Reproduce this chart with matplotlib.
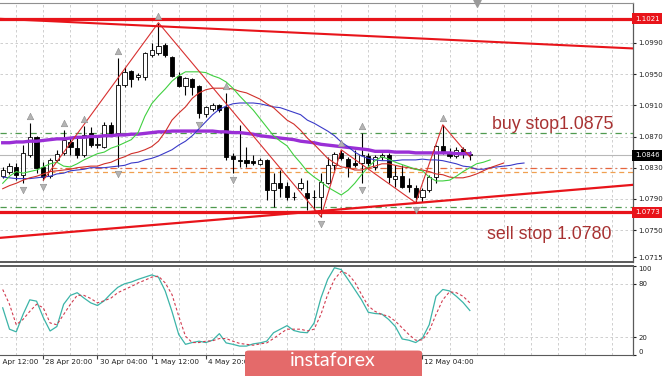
import numpy as np
import matplotlib
matplotlib.use("Agg")
import matplotlib.pyplot as plt
from matplotlib.transforms import blended_transform_factory
from matplotlib.patches import FancyBboxPatch

# EURUSD H4 candles
opens = [1.0819, 1.0825, 1.0831, 1.0821, 1.0846, 1.0869, 1.0831, 1.0819, 1.0840, 1.0849,
         1.0863, 1.0855, 1.0846, 1.0875, 1.0859, 1.0857, 1.0885, 1.0875, 1.0936, 1.0954,
         1.0946, 1.0946, 1.0975, 1.0977, 1.0987, 1.0972, 1.0948, 1.0935, 1.0944, 1.0935,
         1.0899, 1.0905, 1.0910, 1.0908, 1.0845, 1.0840, 1.0840, 1.0839, 1.0835, 1.0840,
         1.0801, 1.0810, 1.0807, 1.0793, 1.0804, 1.0798, 1.0793, 1.0792, 1.0810, 1.0833,
         1.0849, 1.0841, 1.0836, 1.0836, 1.0845, 1.0831, 1.0844, 1.0846, 1.0816, 1.0819,
         1.0808, 1.0804, 1.0792, 1.0801, 1.0818, 1.0858, 1.0850, 1.0845, 1.0854, 1.0848]
highs = [1.0831, 1.0836, 1.0836, 1.0859, 1.0887, 1.0871, 1.0837, 1.0842, 1.0853, 1.0878,
         1.0869, 1.0868, 1.0884, 1.0882, 1.0872, 1.0889, 1.0889, 1.0971, 1.0959, 1.0955,
         1.0952, 1.0978, 1.0990, 1.1016, 1.0990, 1.0973, 1.0953, 1.0946, 1.0945, 1.0936,
         1.0909, 1.0913, 1.0912, 1.0926, 1.0849, 1.0885, 1.0857, 1.0846, 1.0842, 1.0841,
         1.0823, 1.0827, 1.0812, 1.0799, 1.0817, 1.0814, 1.0801, 1.0823, 1.0844, 1.0850,
         1.0853, 1.0844, 1.0853, 1.0875, 1.0849, 1.0846, 1.0849, 1.0849, 1.0833, 1.0833,
         1.0817, 1.0808, 1.0804, 1.0821, 1.0859, 1.0885, 1.0855, 1.0856, 1.0856, 1.0851]
lows = [1.0817, 1.0822, 1.0814, 1.0810, 1.0844, 1.0823, 1.0814, 1.0817, 1.0837, 1.0846,
        1.0846, 1.0843, 1.0844, 1.0857, 1.0855, 1.0855, 1.0873, 1.0831, 1.0934, 1.0934,
        1.0943, 1.0943, 1.0972, 1.0975, 1.0972, 1.0946, 1.0934, 1.0923, 1.0923, 1.0894,
        1.0895, 1.0903, 1.0901, 1.0840, 1.0823, 1.0831, 1.0831, 1.0833, 1.0833, 1.0789,
        1.0780, 1.0792, 1.0789, 1.0789, 1.0801, 1.0776, 1.0776, 1.0767, 1.0809, 1.0827,
        1.0840, 1.0818, 1.0831, 1.0810, 1.0831, 1.0827, 1.0840, 1.0810, 1.0805, 1.0804,
        1.0799, 1.0785, 1.0786, 1.0799, 1.0810, 1.0848, 1.0843, 1.0843, 1.0843, 1.0840]
closes = [1.0827, 1.0832, 1.0821, 1.0849, 1.0869, 1.0830, 1.0818, 1.0840, 1.0848, 1.0866,
          1.0857, 1.0846, 1.0872, 1.0859, 1.0861, 1.0885, 1.0875, 1.0936, 1.0953, 1.0944,
          1.0949, 1.0977, 1.0981, 1.0986, 1.0975, 1.0948, 1.0935, 1.0945, 1.0934, 1.0900,
          1.0908, 1.0910, 1.0904, 1.0844, 1.0841, 1.0839, 1.0836, 1.0836, 1.0840, 1.0801,
          1.0810, 1.0804, 1.0792, 1.0792, 1.0810, 1.0791, 1.0792, 1.0812, 1.0833, 1.0848,
          1.0842, 1.0831, 1.0834, 1.0846, 1.0836, 1.0844, 1.0846, 1.0818, 1.0819, 1.0805,
          1.0805, 1.0792, 1.0801, 1.0818, 1.0858, 1.0849, 1.0845, 1.0853, 1.0847, 1.0846]

# slow MA (purple)
ma_slow = [1.0862, 1.0862, 1.0863, 1.0863, 1.0864, 1.0864, 1.0865, 1.0866, 1.0867, 1.0867,
           1.0868, 1.0869, 1.0869, 1.0870, 1.0870, 1.0871, 1.0871, 1.0872, 1.0872, 1.0873,
           1.0873, 1.0874, 1.0875, 1.0876, 1.0876, 1.0877, 1.0877, 1.0877, 1.0877, 1.0877,
           1.0877, 1.0877, 1.0876, 1.0876, 1.0875, 1.0875, 1.0874, 1.0873, 1.0871, 1.0870,
           1.0869, 1.0868, 1.0867, 1.0866, 1.0864, 1.0863, 1.0862, 1.0860, 1.0859, 1.0858,
           1.0857, 1.0856, 1.0855, 1.0854, 1.0853, 1.0851, 1.0851, 1.0851, 1.0850, 1.0850,
           1.0850, 1.0849, 1.0849, 1.0849, 1.0849, 1.0849, 1.0849, 1.0848, 1.0848, 1.0848]

# alligator, already shifted forward (jaw +8, teeth +5, lips +3)
jaw = [1.0818, 1.0817, 1.0816, 1.0816, 1.0816, 1.0817, 1.0818, 1.0819, 1.0822, 1.0823,
       1.0826, 1.0827, 1.0828, 1.0830, 1.0830, 1.0830, 1.0831, 1.0832, 1.0833, 1.0836,
       1.0837, 1.0840, 1.0842, 1.0845, 1.0849, 1.0853, 1.0859, 1.0864, 1.0871, 1.0880,
       1.0889, 1.0898, 1.0905, 1.0909, 1.0912, 1.0913, 1.0913, 1.0913, 1.0912, 1.0910,
       1.0908, 1.0907, 1.0904, 1.0901, 1.0898, 1.0891, 1.0887, 1.0882, 1.0877, 1.0871,
       1.0863, 1.0857, 1.0850, 1.0845, 1.0842, 1.0840, 1.0839, 1.0839, 1.0839, 1.0840,
       1.0840, 1.0840, 1.0841, 1.0840, 1.0840, 1.0839, 1.0837, 1.0835, 1.0832, 1.0831,
       1.0828, 1.0828, 1.0830, 1.0831, 1.0832, 1.0833, 1.0835, 1.0836]
teeth = [1.0803, 1.0807, 1.0810, 1.0814, 1.0817, 1.0819, 1.0822, 1.0825, 1.0826, 1.0827,
         1.0828, 1.0830, 1.0831, 1.0832, 1.0832, 1.0835, 1.0837, 1.0841, 1.0844, 1.0848,
         1.0850, 1.0853, 1.0857, 1.0864, 1.0876, 1.0891, 1.0900, 1.0908, 1.0919, 1.0926,
         1.0930, 1.0932, 1.0932, 1.0932, 1.0931, 1.0928, 1.0926, 1.0922, 1.0918, 1.0912,
         1.0907, 1.0899, 1.0891, 1.0886, 1.0878, 1.0868, 1.0860, 1.0851, 1.0842, 1.0836,
         1.0831, 1.0830, 1.0827, 1.0827, 1.0830, 1.0832, 1.0835, 1.0835, 1.0833, 1.0831,
         1.0830, 1.0828, 1.0827, 1.0825, 1.0822, 1.0821, 1.0818, 1.0817, 1.0817, 1.0819,
         1.0822, 1.0826, 1.0830, 1.0833, 1.0836]
lips = [1.0810, 1.0819, 1.0825, 1.0823, 1.0825, 1.0827, 1.0831, 1.0835, 1.0837, 1.0832,
        1.0831, 1.0835, 1.0840, 1.0844, 1.0848, 1.0850, 1.0855, 1.0858, 1.0862, 1.0866,
        1.0875, 1.0896, 1.0912, 1.0922, 1.0931, 1.0941, 1.0948, 1.0953, 1.0953, 1.0953,
        1.0952, 1.0948, 1.0945, 1.0940, 1.0932, 1.0922, 1.0913, 1.0904, 1.0893, 1.0882,
        1.0871, 1.0864, 1.0858, 1.0846, 1.0836, 1.0825, 1.0818, 1.0812, 1.0805, 1.0800,
        1.0795, 1.0801, 1.0810, 1.0821, 1.0831, 1.0839, 1.0844, 1.0841, 1.0837, 1.0834,
        1.0831, 1.0828, 1.0826, 1.0818, 1.0813, 1.0813, 1.0814, 1.0819, 1.0825, 1.0830,
        1.0835, 1.0837, 1.0840]

# zigzag swing points
zz_idx = [6, 23, 47, 50, 61, 65, 69]
zz_val = [1.0814, 1.1016, 1.0767, 1.0853, 1.0785, 1.0885, 1.0844]

# bill williams fractals
frac_up = [4, 9, 12, 17, 23, 33, 50, 53, 65]
frac_dn = [3, 6, 17, 29, 34, 47, 53, 61]

# stochastic
stoch_k = [53, 29, 26, 45.5, 62, 60.5, 42, 27, 32, 57,
           67, 70, 64, 58.6, 55.6, 61, 69, 76, 80, 82,
           85, 87.5, 90, 87.5, 72, 49, 23, 12, 14, 15.5,
           14, 16.6, 24, 13.6, 12, 10, 10, 12.5, 13.6, 15.5,
           25, 29, 33, 27.5, 25.6, 25, 36, 64, 85, 98,
           96, 85, 73.6, 62, 48, 46.6, 46, 40, 32, 18,
           16.6, 14, 19, 34, 66, 73.6, 72, 66, 59, 50]
stoch_d = [73.6, 57, 34, 40, 49, 57, 53, 36, 34, 45.5,
           57, 67, 67, 63.5, 58.6, 61, 64, 70, 73.6, 77,
           81, 84, 87.5, 88.6, 81, 68, 43.6, 21, 14, 14,
           15.5, 16, 18.5, 18.5, 15.5, 13, 12, 11, 12.5, 13.6,
           18.5, 24, 29, 29, 29, 27, 29, 45.5, 68, 85,
           94, 91, 82, 68, 55, 49, 45.5, 43.6, 38, 30.5,
           23, 16.6, 17, 27, 45.5, 62, 71, 70, 66, 58.6]

# levels and trend lines
resist_level = 1.1021
support_level = 1.0773
buy_stop = 1.0875
sell_stop = 1.0780
pivot_levels = [1.0830, 1.0824]
top_trend = [1.1021, 1.0983]
bottom_trend = [1.0740, 1.0808]

price_ticks = [1.0990, 1.0950, 1.0910, 1.0870, 1.0830, 1.0790, 1.0750, 1.0715]
# labels for 6/7/8 May sit under the watermark in the original, so only these show
time_pos = [-2, 6, 14, 22, 30, 62]
time_labels = ["27 Apr 12:00", "28 Apr 20:00", "30 Apr 04:00", "1 May 12:00", "4 May 20:00",
               "12 May 04:00"]
tick_pos = [6, 14, 22, 30, 38, 46, 54, 62]

W, H = 665, 376
fig = plt.figure(figsize=(W / 100, H / 100), dpi=100)
ax = fig.add_axes([0, 114 / H, 633 / W, 259 / H])
ax2 = fig.add_axes([0, 21 / H, 633 / W, 89 / H], sharex=ax)

x0, x1 = -0.4, 93.1
ax.set_xlim(x0, x1)
ax.set_ylim(1.0709, 1.10413)
ax2.set_ylim(0, 100)

grid_kw = dict(color='#c8c8c8', lw=0.6, ls=(0, (3, 3)), zorder=0)
for gx in np.arange(2, 93, 4):
    ax.axvline(gx, **grid_kw)
    ax2.axvline(gx, **grid_kw)
for gy in price_ticks[:-1]:
    ax.axhline(gy, **grid_kw)
for gy in [80, 20]:
    ax2.axhline(gy, **grid_kw)

# horizontal levels / trend lines
ax.axhline(resist_level, color='#e8141a', lw=2.3, zorder=7)
ax.axhline(support_level, color='#e8141a', lw=2.3, zorder=7)
ax.plot([x0, x1], top_trend, color='#e8141a', lw=1.5, zorder=7)
ax.plot([x0, x1], bottom_trend, color='#e8141a', lw=1.6, zorder=7)
ax.axhline(buy_stop, color='#4f9a4f', lw=0.9, ls=(0, (5, 3, 1, 3)), zorder=2)
ax.axhline(sell_stop, color='#4f9a4f', lw=0.9, ls=(0, (5, 3, 1, 3)), zorder=2)
ax.hlines(pivot_levels[0], 7, x1, color='#e8643c', lw=0.9, ls=(0, (5, 3, 1, 3)), zorder=2)
ax.hlines(pivot_levels[1], 7, x1, color='#f0a050', lw=0.9, ls=(0, (4, 3)), zorder=2)
ax.axhline(closes[-1], color='#b8b8b8', lw=0.8, zorder=1)

# candles
o = np.array(opens); c = np.array(closes); hi = np.array(highs); lo = np.array(lows)
xi = np.arange(len(c))
bull = c >= o
ax.vlines(xi, lo, hi, color='black', lw=0.8, zorder=4)
ax.bar(xi, np.maximum(np.abs(c - o), 0.00004), bottom=np.minimum(o, c), width=0.62,
       color=np.where(bull, 'white', 'black'), edgecolor='black', lw=0.6, zorder=5)

# indicators
ax.plot(np.arange(len(ma_slow)), ma_slow, color='#9a2fd6', lw=2.4, zorder=6)
ax.plot(np.arange(len(jaw)), jaw, color='#3a3ac8', lw=0.8, zorder=6)
ax.plot(np.arange(len(teeth)), teeth, color='#d0302a', lw=0.8, zorder=6)
ax.plot(np.arange(len(lips)), lips, color='#40d040', lw=0.8, zorder=6)
ax.plot(zz_idx, zz_val, color='#d83030', lw=0.8, zorder=6)
ax.scatter(frac_up, hi[frac_up] + 0.0009, marker='^', s=22, color='#b4b4b4',
           edgecolor='#8c8c8c', lw=0.4, zorder=8)
ax.scatter(frac_dn, lo[frac_dn] - 0.0009, marker='v', s=22, color='#b4b4b4',
           edgecolor='#8c8c8c', lw=0.4, zorder=8)
ax.scatter([70], [1.0], marker='v', s=30, color='#9a9a9a', zorder=8,
           transform=blended_transform_factory(ax.transData, ax.transAxes), clip_on=False)

ax.text(72.3, 1.0885, "buy stop1.0875", family='Liberation Sans', fontsize=12.8,
        color='#a83232', ha='left', va='center', zorder=9)
ax.text(71.5, 1.0744, "sell stop 1.0780", family='Liberation Sans', fontsize=12.8,
        color='#a83232', ha='left', va='center', zorder=9)

# axes styling
for a in (ax, ax2):
    a.set_facecolor('white')
    a.spines['left'].set_visible(False)
    for s in ('top', 'bottom', 'right'):
        a.spines[s].set_color('#5a5a5a')
    a.spines['right'].set_linewidth(0.9)
ax.spines['bottom'].set_linewidth(1.4)
ax2.spines['top'].set_linewidth(1.4)
ax.spines['top'].set_color('#909090')

ax.yaxis.tick_right()
ax.set_yticks(price_ticks)
ax.set_yticklabels([f"{v:.4f}" for v in price_ticks])
ax.tick_params(axis='y', length=2, labelsize=5, pad=2, colors='#202020')
ax.tick_params(axis='x', bottom=False, labelbottom=False)

tr = blended_transform_factory(ax.transAxes, ax.transData)
for val, bg, fg in [(resist_level, '#e8141a', 'white'), (closes[-1], 'black', 'white'),
                    (support_level, '#e8141a', 'white')]:
    ax.text(1.003, val, f"{val:.4f}", transform=tr, fontsize=5, color=fg, va='center',
            ha='left', bbox=dict(boxstyle='square,pad=0.35', fc=bg, ec='none'),
            clip_on=False, zorder=10)

ax2.plot(xi, stoch_k, color='#3cb4a8', lw=0.9, zorder=3)
ax2.plot(xi, stoch_d, color='#d23c50', lw=0.8, ls=(0, (2.5, 2)), zorder=3)
ax2.yaxis.tick_right()
ax2.set_yticks([0, 20, 80, 100])
ax2.set_yticklabels(["0", "20", "80", "100"])
ax2.tick_params(axis='y', length=2, labelsize=5, pad=2, colors='#202020')
ylbls = ax2.get_yticklabels()
ylbls[0].set_va('bottom')
ylbls[-1].set_va('top')
ax2.set_xticks(tick_pos)
ax2.tick_params(axis='x', length=3, labelbottom=False, colors='#404040')
for p, lab in zip(time_pos, time_labels):
    ax2.text(p + 0.3, -0.05, lab, transform=ax2.get_xaxis_transform(), fontsize=5.2,
             color='#202020', ha='left', va='top', clip_on=False)

# watermark
logo = FancyBboxPatch((245 / W, -0.02), 177 / W, 33 / H, boxstyle='round,pad=0,rounding_size=0.006',
                      transform=fig.transFigure, fc='#e46a6a', ec='none', zorder=20)
fig.add_artist(logo)
fig.text(333 / W, 15 / H, "instaforex", family='Lato', fontsize=14, color='white',
         ha='center', va='center', zorder=21)

fig.savefig('out.png', dpi=100)
